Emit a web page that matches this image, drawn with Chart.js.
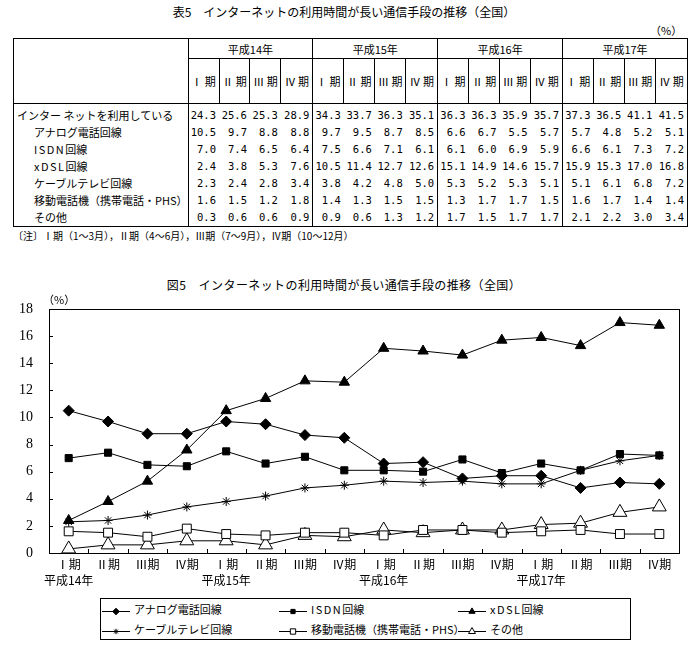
<!DOCTYPE html>
<html>
<head>
<meta charset="utf-8">
<title>図5 インターネットの利用時間が長い通信手段の推移</title>
<script src="https://cdn.jsdelivr.net/npm/chart.js@4/dist/chart.umd.min.js"></script>
<style>
  body { margin: 0; background: #fff; color: #000; font-family: "Noto Sans CJK JP", sans-serif; }
  #page { position: relative; width: 688px; height: 655px; overflow: hidden; }
  .abs { position: absolute; white-space: nowrap; }
  #t5 { left: 0; width: 688px; top: 3px; text-align: center; font-size: 12px; }
  #pct1 { left: 650px; top: 22px; font-size: 11px; }
  #tbl { position: absolute; left: 13px; top: 38px; border-collapse: collapse; table-layout: fixed;
         font-size: 11px; border: 1px solid #000; }
  #tbl th, #tbl td { padding: 0; font-weight: normal; white-space: nowrap; overflow: hidden; }
  #tbl .blk { border-left: 1px solid #000; }
  #tbl tr.yr th { height: 19px; border-bottom: 1px solid #000; text-align: center; }
  #tbl th.lab { border-bottom: 1px solid #000; }
  #tbl tr.per th { height: 44px; border-left: 1px solid #000; border-bottom: 1px solid #000; text-align: center; }
  #tbl tr.dat td { height: 17px; line-height: 17px; }
  #tbl tr.first td { padding-top: 3px; }
  #tbl td.lab { padding-left: 3px; }
  #tbl td.ind { padding-left: 20px; }
  #tbl td.num { text-align: right; padding-right: 3px; font-family: "DejaVu Sans Mono", monospace; font-size: 10.5px; }
  .sp { letter-spacing: 1.5px; }
  #note { left: 13px; top: 228px; font-size: 10px; }
  #t5c { left: 0; width: 688px; top: 276px; text-align: center; font-size: 12px; letter-spacing: 0.4px; }
  #pct2 { left: 43px; top: 291px; font-size: 11px; z-index: 2; }
  #cv { position: absolute; left: 0; top: 300px; }
  #legend { position: absolute; left: 100px; top: 598px; width: 529px; height: 40px; border: 1px solid #000; }
  .item { position: absolute; font-size: 11px; line-height: 14px; white-space: nowrap; }
  .item canvas { vertical-align: middle; margin-right: 4px; }
</style>
</head>
<body>
<div id="page">
  <div class="abs" id="t5">表5　インターネットの利用時間が長い通信手段の推移（全国）</div>
  <div class="abs" id="pct1">（%）</div>
  <table id="tbl"></table>
  <div class="abs" id="note">〔注〕Ⅰ期（1～3月），Ⅱ期（4～6月），Ⅲ期（7～9月），Ⅳ期（10～12月）</div>
  <div class="abs" id="t5c">図5　インターネットの利用時間が長い通信手段の推移（全国）</div>
  <canvas id="cv" width="688" height="293"></canvas>
  <div class="abs" id="pct2">（%）</div>
  <div id="legend"></div>
</div>
<script>
// data
const years = ['平成14年', '平成15年', '平成16年', '平成17年'];
const periods = ['Ⅰ期', 'Ⅱ期', 'Ⅲ期', 'Ⅳ期'];

const internetUse = [24.3, 25.6, 25.3, 28.9, 34.3, 33.7, 36.3, 35.1, 36.3, 36.3, 35.9, 35.7, 37.3, 36.5, 41.1, 41.5];
const analog = [10.5, 9.7, 8.8, 8.8, 9.7, 9.5, 8.7, 8.5, 6.6, 6.7, 5.5, 5.7, 5.7, 4.8, 5.2, 5.1];
const isdn = [7.0, 7.4, 6.5, 6.4, 7.5, 6.6, 7.1, 6.1, 6.1, 6.0, 6.9, 5.9, 6.6, 6.1, 7.3, 7.2];
const xdsl = [2.4, 3.8, 5.3, 7.6, 10.5, 11.4, 12.7, 12.6, 15.1, 14.9, 14.6, 15.7, 15.9, 15.3, 17.0, 16.8];
const cable = [2.3, 2.4, 2.8, 3.4, 3.8, 4.2, 4.8, 5.0, 5.3, 5.2, 5.3, 5.1, 5.1, 6.1, 6.8, 7.2];
const mobile = [1.6, 1.5, 1.2, 1.8, 1.4, 1.3, 1.5, 1.5, 1.3, 1.7, 1.7, 1.5, 1.6, 1.7, 1.4, 1.4];
const other = [0.3, 0.6, 0.6, 0.9, 0.9, 0.6, 1.3, 1.2, 1.7, 1.5, 1.7, 1.7, 2.1, 2.2, 3.0, 3.4];

const yTicks = { min: 0, max: 18, step: 2 };

// table
const rows = [
  { name: 'インター ネットを利用している', vals: internetUse },
  { name: 'アナログ電話回線', vals: analog },
  { name: 'ISDN回線', vals: isdn },
  { name: 'xDSL回線', vals: xdsl },
  { name: 'ケーブルテレビ回線', vals: cable },
  { name: '移動電話機（携帯電話・PHS）', vals: mobile },
  { name: 'その他', vals: other }
];

// latin names are spaced out a little in the original
function nameHtml(s) {
  return s.replace(/^([A-Za-z]+)/, '<span class="sp">$1</span>');
}

let h = '<colgroup><col style="width:165px">';
for (let i = 0; i < 16; i++) h += '<col style="width:' + (i % 4 == 3 ? 32 : 31) + 'px">';
h += '</colgroup>';
h += '<tr class="yr"><th rowspan="2" class="lab"></th>';
years.forEach(y => { h += '<th colspan="4" class="blk">' + y + '</th>'; });
h += '</tr><tr class="per">';
years.forEach(() => periods.forEach(p => { h += '<th>' + p.replace('期', ' 期') + '</th>'; }));
h += '</tr>';
rows.forEach((r, ri) => {
  h += '<tr class="dat' + (ri == 0 ? ' first' : '') + '"><td class="lab' + (ri > 0 ? ' ind' : '') + '">' + nameHtml(r.name) + '</td>';
  r.vals.forEach((v, i) => { h += '<td class="num' + (i % 4 == 0 ? ' blk' : '') + '">' + v.toFixed(1) + '</td>'; });
  h += '</tr>';
});
document.getElementById('tbl').innerHTML = h;

// chart
const labels = [];
years.forEach(y => periods.forEach((p, i) => labels.push(i == 0 ? [p, y] : [p, ''])));

function series(label, data, style, r, fill) {
  return {
    label: label, data: data,
    borderColor: '#000', borderWidth: 1,
    pointStyle: style, pointRadius: r, pointHoverRadius: r,
    pointBackgroundColor: fill, pointBorderColor: '#000', pointBorderWidth: 1,
    tension: 0, fill: false
  };
}

const datasets = [
  series('アナログ電話回線', analog, 'rectRot', 5.5, '#000'),
  series('ISDN回線', isdn, 'rect', 5, '#000'),
  series('xDSL回線', xdsl, 'triangle', 6, '#000'),
  series('ケーブルテレビ回線', cable, 'star', 4.5, '#000'),
  series('移動電話機（携帯電話・PHS）', mobile, 'rect', 6.3, '#fff'),
  series('その他', other, 'triangle', 8, '#fff')
];

// frame with inward ticks
const frame = {
  id: 'frame',
  beforeDatasetsDraw(chart) {
    const { ctx, chartArea: a, scales } = chart;
    ctx.save();
    ctx.strokeStyle = '#000';
    ctx.lineWidth = 1;
    ctx.strokeRect(Math.round(a.left) + 0.5, Math.round(a.top) + 0.5, Math.round(a.right - a.left), Math.round(a.bottom - a.top));
    ctx.beginPath();
    scales.y.ticks.forEach(t => {
      const y = Math.round(scales.y.getPixelForValue(t.value)) + 0.5;
      ctx.moveTo(a.left, y); ctx.lineTo(a.left + 4, y);
    });
    for (let i = 1; i < labels.length; i++) {
      const x = Math.round((scales.x.getPixelForValue(i - 1) + scales.x.getPixelForValue(i)) / 2) + 0.5;
      ctx.moveTo(x, a.bottom); ctx.lineTo(x, a.bottom - 4);
    }
    ctx.stroke();
    ctx.restore();
  }
};

new Chart(document.getElementById('cv'), {
  type: 'line',
  data: { labels: labels, datasets: datasets },
  options: {
    responsive: false,
    animation: false,
    layout: { padding: { top: 8, right: 6, left: 0, bottom: 0 } },
    plugins: { legend: { display: false }, tooltip: { enabled: false } },
    scales: {
      x: {
        offset: true,
        grid: { display: false, drawTicks: false },
        border: { display: false },
        ticks: { color: '#000', padding: 3, maxRotation: 0, autoSkip: false,
                 font: { family: '"Noto Sans CJK JP"', size: 12, lineHeight: 1.33 } },
        afterFit(s) { s.height = 40; s.paddingLeft = 0; s.paddingRight = 0; }
      },
      y: {
        min: yTicks.min, max: yTicks.max,
        grid: { display: false, drawTicks: false },
        border: { display: false },
        ticks: { stepSize: yTicks.step, color: '#000', padding: 16,
                 font: { family: '"Liberation Serif"', size: 14 } },
        afterFit(s) { s.width = 49; s.paddingTop = 0; s.paddingBottom = 0; }
      }
    }
  },
  plugins: [frame]
});

// legend
const legendPos = [[1, 3], [178, 3], [357, 3], [1, 23], [178, 23], [357, 23]];
const leg = document.getElementById('legend');
datasets.forEach((ds, i) => {
  const it = document.createElement('div');
  it.className = 'item';
  it.style.left = legendPos[i][0] + 'px';
  it.style.top = legendPos[i][1] + 'px';
  const c = document.createElement('canvas');
  c.width = 28; c.height = 12;
  it.appendChild(c);
  const t = document.createElement('span');
  t.innerHTML = nameHtml(ds.label);
  it.appendChild(t);
  leg.appendChild(it);
  const g = c.getContext('2d');
  g.strokeStyle = '#000'; g.lineWidth = 1;
  g.beginPath(); g.moveTo(0, 6.5); g.lineTo(28, 6.5); g.stroke();
  g.fillStyle = ds.pointBackgroundColor;
  Chart.helpers.drawPoint(g, { pointStyle: ds.pointStyle, radius: Math.min(ds.pointRadius * 0.6, 4), borderWidth: 1 }, 14, 6.5);
});
</script>
</body>
</html>
